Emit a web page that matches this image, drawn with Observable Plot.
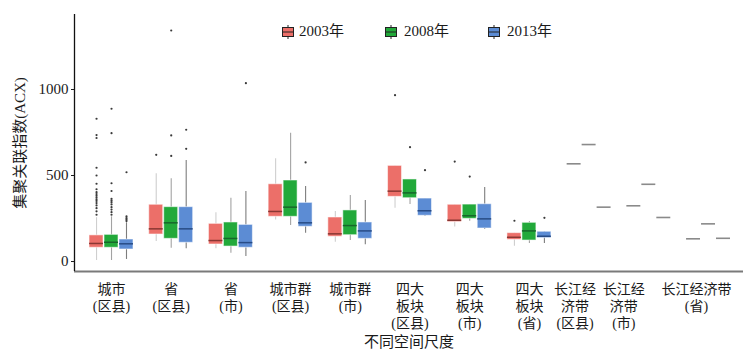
<!DOCTYPE html>
<html>
<head>
<meta charset="utf-8">
<script src="https://cdn.jsdelivr.net/npm/d3@7"></script>
<script src="https://cdn.jsdelivr.net/npm/@observablehq/plot@0.6"></script>
<style>
  html, body { margin: 0; padding: 0; background: #fff; }
  #wrap { position: relative; width: 752px; height: 357px; font-family: 'Liberation Serif', 'Noto Sans CJK SC', serif; }
  #wrap svg text { font-family: 'Liberation Serif', 'Noto Sans CJK SC', serif; }
  #legend { position: absolute; top: 0; left: 0; width: 752px; height: 60px; pointer-events: none; }
  .lg-text { position: absolute; top: 21px; font-size: 15px; line-height: 20px; color: #1a1a1a; white-space: nowrap; }
  .lg-glyph { position: absolute; top: 25px; }
</style>
</head>
<body>
<div id="wrap"><div id="legend"></div></div>
<script>
// ---- data ----
const categories = [
  "城市\n(区县)", "省\n(区县)", "省\n(市)", "城市群\n(区县)", "城市群\n(市)",
  "四大\n板块\n(区县)", "四大\n板块\n(市)", "四大\n板块\n(省)",
  "长江经\n济带\n(区县)", "长江经\n济带\n(市)", "长江经济带\n(省)"
];
const years = ["2003年", "2008年", "2013年"];
const yTicks = [0, 500, 1000];

// per category: [2003, 2008, 2013]
const whiskerLow = [
  [6, 6, 12], [116, 77, 74], [74, 48, 29], [242, 209, 165], [112, 122, 97],
  [310, 331, 262], [200, 234, 186], [89, 105, 105], [568, 680, 316], [324, 449, 256], [132, 219, 135]
];
const q1 = [
  [80, 80, 70], [157, 132, 109], [99, 87, 80], [260, 260, 202], [144, 153, 132],
  [376, 368, 266], [229, 248, 192], [126, 122, 136], [568, 680, 316], [324, 449, 256], [132, 219, 135]
];
const median = [
  [105, 112, 103], [190, 225, 190], [122, 134, 110], [291, 316, 225], [161, 209, 178],
  [409, 399, 295], [240, 266, 248], [141, 178, 147], [568, 680, 316], [324, 449, 256], [132, 219, 135]
];
const q3 = [
  [152, 155, 128], [330, 316, 316], [219, 227, 213], [449, 471, 341], [256, 297, 227],
  [556, 477, 366], [330, 331, 333], [165, 225, 173], [568, 680, 316], [324, 449, 256], [132, 219, 135]
];
const whiskerHigh = [
  [255, 260, 225], [510, 481, 587], [283, 368, 407], [597, 746, 436], [291, 384, 355],
  [556, 477, 366], [330, 331, 430], [165, 233, 173], [568, 680, 316], [324, 449, 256], [132, 219, 135]
];
// outliers: [category index, year index, values]
const outliers = [
  [0, 0, [830, 735, 718, 545, 500, 452, 420, 403, 392, 382, 372, 362, 352, 340, 326, 310, 292, 272]],
  [0, 1, [888, 746, 455, 410, 365, 355, 345, 332, 316, 302, 287, 272]],
  [0, 2, [519, 262, 252, 243, 235]],
  [1, 0, [620]],
  [1, 1, [614, 733, 1343]],
  [1, 2, [655, 766]],
  [2, 2, [1037]],
  [3, 2, [576]],
  [5, 0, [967]],
  [5, 1, [665]],
  [5, 2, [531]],
  [6, 0, [581]],
  [6, 1, [494]],
  [7, 0, [237]],
  [7, 2, [254]]
];

// ---- styling ----
const FONT = "'Liberation Serif', 'Noto Sans CJK SC', serif";
const fills = ["#EC6F69", "#22A93A", "#5C8CD4"];
const medianColors = ["#8A3733", "#16672A", "#284C86"];
const whiskerColors = ["#cfcfcf", "#a3a3a3", "#7d7d7d"];

const offset = 0.251, hw = 0.117;
const rows = [];
categories.forEach((c, i) => years.forEach((y, j) => {
  rows.push({i, j, x: i + (j - 1) * offset, lo: whiskerLow[i][j], q1: q1[i][j], med: median[i][j], q3: q3[i][j], hi: whiskerHigh[i][j]});
}));
const pts = [];
outliers.forEach(([i, j, vals]) => vals.forEach(v => pts.push({x: i + (j - 1) * offset, v})));

const marks = [];
years.forEach((y, j) => {
  const boxes = rows.filter(r => r.j === j && r.q3 > r.q1);
  const singles = rows.filter(r => r.j === j && r.q3 === r.q1);
  marks.push(Plot.ruleX(boxes, {x: "x", y1: "lo", y2: "hi", stroke: whiskerColors[j], strokeWidth: 1.1}));
  marks.push(Plot.rect(boxes, {x1: d => d.x - hw, x2: d => d.x + hw, y1: "q1", y2: "q3", fill: fills[j], stroke: "#ffffff", strokeOpacity: 0.55, strokeWidth: 1}));
  marks.push(Plot.ruleY(boxes, {x1: d => d.x - hw, x2: d => d.x + hw, y: "med", stroke: medianColors[j], strokeWidth: 1.5}));
  marks.push(Plot.ruleY(singles, {x1: d => d.x - hw, x2: d => d.x + hw, y: "med", stroke: "#8a8a8a", strokeWidth: 1.6}));
});
marks.push(Plot.dot(pts, {x: "x", y: "v", r: 1.1, fill: "#3a3a3a", stroke: null}));

// axes
const xMin = -0.62, xMax = 10.586, yMin = -58, yMax = 1436;
marks.push(Plot.ruleY([yMin], {stroke: "#7a7a7a", strokeWidth: 1.8}));
marks.push(Plot.ruleX([xMin], {stroke: "#111", strokeWidth: 1.3}));
marks.push(Plot.axisY({ticks: yTicks, tickFormat: d => String(d), tickSize: 3, tickPadding: 3, fontSize: 15, fontFamily: FONT, label: null}));
// category labels under the axis (the last three sit a little left of their boxes in the reference)
const labelOpts = {x: i => i, text: i => categories[i], frameAnchor: "bottom", lineAnchor: "top", dy: 11,
                   fontSize: 14, lineHeight: 1.19, fontFamily: FONT, fill: "#1a1a1a"};
const idx = categories.map((c, i) => i);
marks.push(Plot.text(idx.slice(0, 8), labelOpts));
marks.push(Plot.text([8], {...labelOpts, dx: -14}));
marks.push(Plot.text([9], {...labelOpts, dx: -25}));
marks.push(Plot.text([10], {...labelOpts, dx: -12}));
marks.push(Plot.text(["集聚关联指数(ACX)"], {text: d => d, frameAnchor: "left", textAnchor: "middle", lineAnchor: "middle", dx: -54, rotate: -90, fontSize: 15, fontFamily: FONT, fill: "#1a1a1a"}));
marks.push(Plot.text(["不同空间尺度"], {text: d => d, frameAnchor: "bottom", textAnchor: "middle", lineAnchor: "middle", dy: 71, fontSize: 15, fontFamily: FONT, fill: "#1a1a1a"}));

const chart = Plot.plot({
  width: 752,
  height: 357,
  marginLeft: 74,
  marginRight: 9,
  marginTop: 14,
  marginBottom: 86,
  x: {type: "linear", domain: [xMin, xMax], axis: null},
  y: {domain: [yMin, yMax], axis: null},
  style: {fontFamily: FONT, background: "#fff", color: "#1a1a1a", overflow: "visible"},
  marks
});
const wrap = document.getElementById("wrap");
wrap.insertBefore(chart, wrap.firstChild);

// legend (HTML overlay inside the plot area, as in the reference)
const legend = document.getElementById("legend");
const glyphX = [282, 385, 488], textX = [299, 404, 507];
years.forEach((y, j) => {
  const g = document.createElementNS("http://www.w3.org/2000/svg", "svg");
  g.setAttribute("width", 12); g.setAttribute("height", 14);
  g.setAttribute("class", "lg-glyph");
  g.style.left = glyphX[j] + "px";
  g.innerHTML = `<line x1="6" x2="6" y1="0" y2="14" stroke="#222" stroke-width="1"/>` +
    `<rect x="0.5" y="2.5" width="11" height="9" fill="${fills[j]}" stroke="#222" stroke-width="1"/>` +
    `<line x1="0.5" x2="11.5" y1="7" y2="7" stroke="#222" stroke-width="1"/>`;
  legend.appendChild(g);
  const t = document.createElement("div");
  t.className = "lg-text";
  t.style.left = textX[j] + "px";
  t.textContent = y;
  legend.appendChild(t);
});
</script>
</body>
</html>
